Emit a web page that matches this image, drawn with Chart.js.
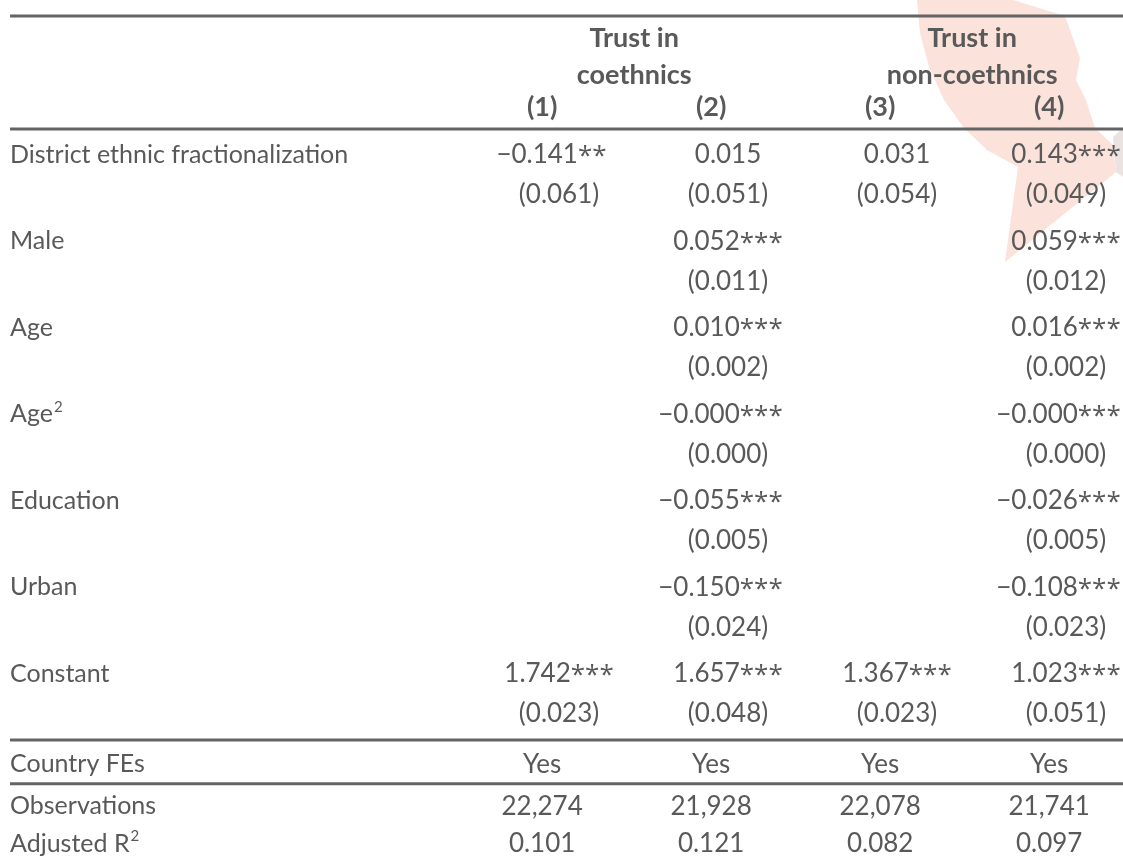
<!DOCTYPE html>
<html>
<head>
<meta charset="utf-8">
<title>Trust in coethnics and non-coethnics</title>
<script src="https://cdn.jsdelivr.net/npm/chart.js@4/dist/chart.umd.min.js"></script>
<style>
  html, body { margin: 0; padding: 0; background: #ffffff; }
  #wrap { width: 1123px; height: 867px; position: relative; }
</style>
</head>
<body>
<div id="wrap"><canvas id="tbl"></canvas></div>
<script>
// ---- Table content -------------------------------------------------------
const columnHeaders = ['(1)', '(2)', '(3)', '(4)'];
const groupTitles = [['Trust in', 'coethnics'], ['Trust in', 'non-coethnics']];
const groupColumns = [[1, 2], [3, 4]];

const rowLabels = ['District ethnic fractionalization', 'Male', 'Age', 'Age',
                   'Education', 'Urban', 'Constant'];
const rowSuperscripts = ['', '', '', '2', '', '', ''];

// coefficient estimates, significance stars and standard errors per model
const coef1 = [-0.141, null, null, null, null, null, 1.742];
const stars1 = ['**', '', '', '', '', '', '***'];
const se1 = [0.061, null, null, null, null, null, 0.023];

const coef2 = [0.015, 0.052, 0.010, -0.000, -0.055, -0.150, 1.657];
const stars2 = ['', '***', '***', '***', '***', '***', '***'];
const se2 = [0.051, 0.011, 0.002, 0.000, 0.005, 0.024, 0.048];

const coef3 = [0.031, null, null, null, null, null, 1.367];
const stars3 = ['', '', '', '', '', '', '***'];
const se3 = [0.054, null, null, null, null, null, 0.023];

const coef4 = [0.143, 0.059, 0.016, -0.000, -0.026, -0.108, 1.023];
const stars4 = ['***', '***', '***', '***', '***', '***', '***'];
const se4 = [0.049, 0.012, 0.002, 0.000, 0.005, 0.023, 0.051];

const statLabels = ['Country FEs', 'Observations', 'Adjusted R'];
const statSuperscripts = ['', '', '2'];
const countryFE = ['Yes', 'Yes', 'Yes', 'Yes'];
const observations = [22274, 21928, 22078, 21741];
const adjustedR2 = [0.101, 0.121, 0.082, 0.097];

// ---- Layout (scale units) --------------------------------------------------
// x: one unit per model column; y: one unit per half variable block
const X_MIN = -2.3077, X_MAX = 4.337;
const Y_MIN = -3.5607, Y_MAX = 16.486;
const LABEL_X = -2.2485;
const HEAD_SHIFT = -0.1;
const GROUP_SHIFT = -0.055;
const SE_OFFSET = 0.925;
const Y_TOP_RULE = -3.19, Y_GROUP1 = -2.705, Y_GROUP2 = -1.85, Y_HEADNUM = -1.11, Y_HEAD_RULE = -0.58;
const Y_FE_RULE_TOP = 13.55, Y_FE = 14.09, Y_FE_RULE_BOTTOM = 14.56, Y_OBS = 15.06, Y_R2 = 15.93;

const TEXT_COLOR = '#595959';
const RULE_COLOR = '#646464';
const FONT_FAMILY = 'Lato, "Open Sans", sans-serif';
const STAR_FAMILY = '"Open Sans", Lato, sans-serif';
const LABEL_SIZE = 25;
const NUMBER_SIZE = 26;
const HEADER_SIZE = 27;
const MINUS = '\u2212';

function fmtCoef(v) {
  const neg = v < 0 || Object.is(v, -0);
  return (neg ? MINUS : '') + Math.abs(v).toFixed(3);
}
function fmtInt(v) { return v.toLocaleString('en-US'); }

// ---- Build text cells -------------------------------------------------------
const cells = [];
const models = [
  { coef: coef1, stars: stars1, se: se1 },
  { coef: coef2, stars: stars2, se: se2 },
  { coef: coef3, stars: stars3, se: se3 },
  { coef: coef4, stars: stars4, se: se4 }
];

groupTitles.forEach((lines, g) => {
  const cx = (groupColumns[g][0] + groupColumns[g][1]) / 2 + GROUP_SHIFT;
  cells.push({ x: cx, y: Y_GROUP1, text: lines[0], kind: 'header' });
  cells.push({ x: cx, y: Y_GROUP2, text: lines[1], kind: 'header' });
});
columnHeaders.forEach((h, c) => {
  cells.push({ x: c + 1 + HEAD_SHIFT, y: Y_HEADNUM, text: h, kind: 'header' });
});

rowLabels.forEach((lab, i) => {
  cells.push({ x: LABEL_X, y: 2 * i, text: lab, sup: rowSuperscripts[i], kind: 'label' });
});
models.forEach((m, c) => {
  m.coef.forEach((v, i) => {
    if (v === null) return;
    cells.push({ x: c + 1, y: 2 * i, text: fmtCoef(v), stars: m.stars[i], kind: 'number' });
    cells.push({ x: c + 1, y: 2 * i + SE_OFFSET, text: '(' + m.se[i].toFixed(3) + ')', kind: 'number' });
  });
});

const statRows = [Y_FE, Y_OBS, Y_R2];
statLabels.forEach((lab, k) => {
  cells.push({ x: LABEL_X, y: statRows[k], text: lab, sup: statSuperscripts[k], kind: 'label' });
});
countryFE.forEach((v, c) => cells.push({ x: c + 1 + HEAD_SHIFT, y: Y_FE, text: v, kind: 'number' }));
observations.forEach((v, c) => cells.push({ x: c + 1 + HEAD_SHIFT, y: Y_OBS, text: fmtInt(v), kind: 'number' }));
adjustedR2.forEach((v, c) => cells.push({ x: c + 1 + HEAD_SHIFT, y: Y_R2, text: v.toFixed(3), kind: 'number' }));

// ---- Horizontal rules ---------------------------------------------------------
const ruleRows = [Y_TOP_RULE, Y_HEAD_RULE, Y_FE_RULE_TOP, Y_FE_RULE_BOTTOM];
const ruleDatasets = ruleRows.map(y => ({
  type: 'line',
  data: [{ x: LABEL_X, y: y }, { x: X_MAX, y: y }],
  borderColor: RULE_COLOR,
  borderWidth: 3,
  pointRadius: 0,
  fill: false,
  order: 2
}));

// ---- Plugins -----------------------------------------------------------------
// soft salmon emblem in the upper right corner, behind the table
const emblemPlugin = {
  id: 'emblem',
  beforeDatasetsDraw(chart) {
    const ctx = chart.ctx;
    const sx = chart.width / 1123, sy = chart.height / 867;
    const shape = [[917, 0], [1013, 0], [1065, 16], [1080, 58], [1076, 80], [1086, 100],
                   [1095, 128], [1113, 145], [1116, 172], [1005, 262], [1018, 167],
                   [987, 150], [964, 128], [944, 100], [929, 67], [920, 33]];
    const shade = [[1113, 137], [1123, 128], [1123, 177], [1116, 172]];
    ctx.save();
    ctx.fillStyle = '#fbe2da';
    ctx.beginPath();
    shape.forEach(([x, y], k) => k ? ctx.lineTo(x * sx, y * sy) : ctx.moveTo(x * sx, y * sy));
    ctx.closePath();
    ctx.fill();
    ctx.fillStyle = '#ebe2e2';
    ctx.beginPath();
    shade.forEach(([x, y], k) => k ? ctx.lineTo(x * sx, y * sy) : ctx.moveTo(x * sx, y * sy));
    ctx.closePath();
    ctx.fill();
    ctx.restore();
  }
};

function fontFor(kind) {
  if (kind === 'header') return 'bold ' + HEADER_SIZE + 'px ' + FONT_FAMILY;
  if (kind === 'number') return NUMBER_SIZE + 'px ' + FONT_FAMILY;
  return LABEL_SIZE + 'px ' + FONT_FAMILY;
}
function sizeFor(kind) {
  return kind === 'header' ? HEADER_SIZE : kind === 'number' ? NUMBER_SIZE : LABEL_SIZE;
}

// writes each cell's text at the position its point was given by the scales;
// a leading minus sign hangs to the left of the centred figure
const cellTextPlugin = {
  id: 'cellText',
  afterDatasetsDraw(chart) {
    const ctx = chart.ctx;
    const idx = chart.data.datasets.findIndex(d => d.label === 'cells');
    const meta = chart.getDatasetMeta(idx);
    ctx.save();
    ctx.fillStyle = TEXT_COLOR;
    ctx.textBaseline = 'alphabetic';
    ctx.textAlign = 'left';
    meta.data.forEach((el, k) => {
      const cell = chart.data.datasets[idx].data[k];
      const size = sizeFor(cell.kind);
      const mainFont = fontFor(cell.kind);
      const base = el.y + size * 0.72 / 2;
      let body = cell.text;
      let lead = '';
      if (cell.kind === 'number' && body.startsWith(MINUS)) { lead = MINUS; body = body.slice(1); }

      ctx.font = mainFont;
      const w = ctx.measureText(body).width;
      const leadW = lead ? ctx.measureText(lead).width : 0;

      const supSize = Math.round(size * 0.6);
      const supFont = supSize + 'px ' + FONT_FAMILY;
      const starFont = size + 'px ' + STAR_FAMILY;
      let extraW = 0;
      if (cell.sup) { ctx.font = supFont; extraW = ctx.measureText(cell.sup).width + 1; }
      if (cell.stars) { ctx.font = starFont; extraW = ctx.measureText(cell.stars).width; }

      const total = w + extraW;
      const left = cell.kind === 'label' ? el.x : el.x - total / 2;
      ctx.font = mainFont;
      if (lead) ctx.fillText(lead, left - leadW, base);
      ctx.fillText(body, left, base);
      if (cell.sup) {
        ctx.font = supFont;
        ctx.fillText(cell.sup, left + w + 1, base - size * 0.42);
      }
      if (cell.stars) {
        ctx.font = starFont;
        ctx.fillText(cell.stars, left + w, base + size * 0.04);
      }
    });
    ctx.restore();
  }
};

new Chart(document.getElementById('tbl'), {
  type: 'scatter',
  data: {
    datasets: [
      ...ruleDatasets,
      { label: 'cells', data: cells, pointRadius: 0, pointHoverRadius: 0, showLine: false, order: 1 }
    ]
  },
  options: {
    responsive: true,
    maintainAspectRatio: false,
    animation: false,
    events: [],
    layout: { padding: 0 },
    plugins: { legend: { display: false }, tooltip: { enabled: false } },
    scales: {
      x: { type: 'linear', min: X_MIN, max: X_MAX, display: false },
      y: { type: 'linear', min: Y_MIN, max: Y_MAX, reverse: true, display: false }
    }
  },
  plugins: [emblemPlugin, cellTextPlugin]
});
</script>
</body>
</html>
